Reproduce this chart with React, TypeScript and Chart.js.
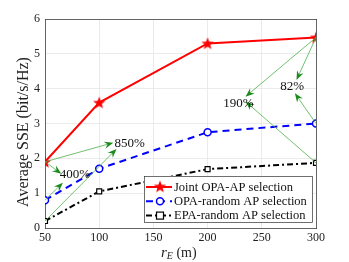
import React, { useEffect, useRef } from "react";
import { Chart, registerables } from "chart.js";
Chart.register(...registerables);

const distances = [50, 100, 200, 300];
const jointOPA = [1.9, 3.6, 5.3, 5.47];
const opaRandom = [0.8, 1.7, 2.75, 3.0];
const epaRandom = [0.2, 1.05, 1.69, 1.87];
const seriesLabels = ["Joint OPA-AP selection", "OPA-random AP selection", "EPA-random AP selection"];
const yTicks = [0, 1, 2, 3, 4, 5, 6];
const xTicks = [50, 100, 150, 200, 250, 300];
// arrows: [fromX, fromY, toX, toY]
const arrows: [number, number, number, number][] = [
  [50, 1.9, 113, 2.45],
  [50, 0.2, 116, 2.27],
  [50, 1.9, 65, 1.56],
  [50, 0.8, 66.5, 1.3],
  [300, 5.47, 235, 3.77],
  [300, 1.87, 235, 3.63],
  [300, 5.47, 282, 4.25],
  [300, 3.0, 280.5, 3.87],
];
const labels: [string, number, number][] = [
  ["850%", 128, 2.42],
  ["400%", 77.5, 1.52],
  ["190%", 228.5, 3.58],
  ["82%", 278, 4.07],
];

const FONT = "'Liberation Serif', 'DejaVu Serif', serif";

function starImage(size: number, color: string) {
  const c = document.createElement("canvas");
  c.width = size;
  c.height = size;
  const ctx = c.getContext("2d")!;
  const cx = size / 2, cy = size / 2 + 0.5, R = size / 2 - 0.5, r = R * 0.42;
  ctx.beginPath();
  for (let i = 0; i < 10; i++) {
    const a = -Math.PI / 2 + (i * Math.PI) / 5;
    const rad = i % 2 === 0 ? R : r;
    const x = cx + rad * Math.cos(a), y = cy + rad * Math.sin(a);
    if (i === 0) ctx.moveTo(x, y); else ctx.lineTo(x, y);
  }
  ctx.closePath();
  ctx.fillStyle = color;
  ctx.fill();
  return c;
}

export default function App() {
  const ref = useRef<HTMLCanvasElement>(null);
  useEffect(() => {
    document.body.style.margin = "0";
    const star = starImage(14, "#ff0000");
    const overlay = {
      id: "overlay",
      afterDatasetsDraw(chart: any) {
        const ctx = chart.ctx as CanvasRenderingContext2D;
        const xs = chart.scales.x, ys = chart.scales.y;
        ctx.save();
        // arrows
        arrows.forEach(([x0, y0, x1, y1]) => {
          const px0 = xs.getPixelForValue(x0), py0 = ys.getPixelForValue(y0);
          const px1 = xs.getPixelForValue(x1), py1 = ys.getPixelForValue(y1);
          const ang = Math.atan2(py1 - py0, px1 - px0);
          const L = 9, W = 3.5;
          const bx = px1 - L * Math.cos(ang), by = py1 - L * Math.sin(ang);
          ctx.strokeStyle = "#4cb04c";
          ctx.lineWidth = 0.8;
          ctx.beginPath();
          ctx.moveTo(px0, py0);
          ctx.lineTo(bx + 3 * Math.cos(ang), by + 3 * Math.sin(ang));
          ctx.stroke();
          ctx.fillStyle = "#1a8a1a";
          ctx.beginPath();
          ctx.moveTo(px1, py1);
          ctx.lineTo(bx - W * Math.sin(ang), by + W * Math.cos(ang));
          ctx.lineTo(bx + 3 * Math.cos(ang), by + 3 * Math.sin(ang));
          ctx.lineTo(bx + W * Math.sin(ang), by - W * Math.cos(ang));
          ctx.closePath();
          ctx.fill();
        });
        ctx.fillStyle = "#111";
        ctx.font = `13px ${FONT}`;
        ctx.textAlign = "center";
        ctx.textBaseline = "middle";
        labels.forEach(([t, x, y]) => {
          ctx.fillText(t, xs.getPixelForValue(x), ys.getPixelForValue(y));
        });
        // legend
        const ca = chart.chartArea;
        const lx = 144, ly = 176, lw = ca.right - 4 - lx, lh = 46;
        ctx.fillStyle = "#fff";
        ctx.fillRect(lx, ly, lw, lh);
        ctx.strokeStyle = "#333";
        ctx.lineWidth = 0.7;
        ctx.strokeRect(lx + 0.5, ly + 0.5, lw, lh);
        chart.data.datasets.forEach((ds: any, i: number) => {
          const yy = ly + 11 + i * 14.3;
          ctx.strokeStyle = ds.borderColor;
          ctx.lineWidth = 2;
          ctx.setLineDash(ds.borderDash || []);
          ctx.beginPath();
          ctx.moveTo(lx + 2, yy);
          ctx.lineTo(lx + 28, yy);
          ctx.stroke();
          ctx.setLineDash([]);
          const mx = lx + 16;
          if (i === 0) {
            ctx.drawImage(star, mx - 7, yy - 7.5);
          } else if (i === 1) {
            ctx.fillStyle = "#fff";
            ctx.lineWidth = 1.5;
            ctx.beginPath();
            ctx.arc(mx, yy, 3.5, 0, Math.PI * 2);
            ctx.fill();
            ctx.stroke();
          } else {
            ctx.fillStyle = "#fff";
            ctx.lineWidth = 1.2;
            ctx.fillRect(mx - 3.5, yy - 3.5, 7, 7);
            ctx.strokeRect(mx - 3.5, yy - 3.5, 7, 7);
          }
          ctx.fillStyle = "#111";
          ctx.font = `12.5px ${FONT}`;
          ctx.textAlign = "left";
          ctx.textBaseline = "middle";
          ctx.fillText(ds.label, lx + 30, yy + 0.5);
        });
        // axis titles
        ctx.fillStyle = "#222";
        ctx.font = `16px ${FONT}`;
        ctx.textAlign = "center";
        ctx.save();
        ctx.translate(24, 132);
        ctx.rotate(-Math.PI / 2);
        ctx.fillText("Average SSE (bit/s/Hz)", 0, 0);
        ctx.restore();
        const ty = 253;
        ctx.textAlign = "left";
        let sx = 161;
        ctx.font = `italic 15px ${FONT}`;
        ctx.fillText("r", sx, ty);
        sx += ctx.measureText("r").width;
        ctx.font = `italic 10px ${FONT}`;
        ctx.fillText("E", sx, ty + 3);
        sx += ctx.measureText("E").width;
        ctx.font = `14px ${FONT}`;
        ctx.fillText(" (m)", sx, ty);
        ctx.restore();
      },
    };
    const chart = new Chart(ref.current!, {
      type: "line",
      data: {
        datasets: [
          {
            label: seriesLabels[0],
            data: distances.map((x, i) => ({ x, y: jointOPA[i] })),
            borderColor: "#ff0000",
            borderWidth: 2,
            pointStyle: star as any,
            pointRadius: 7,
          },
          {
            label: seriesLabels[1],
            data: distances.map((x, i) => ({ x, y: opaRandom[i] })),
            borderColor: "#0000ff",
            borderWidth: 2,
            borderDash: [7, 5],
            pointStyle: "circle",
            pointRadius: 3.5,
            pointBorderWidth: 1.5,
            pointBackgroundColor: "#fff",
            pointBorderColor: "#0000ff",
          },
          {
            label: seriesLabels[2],
            data: distances.map((x, i) => ({ x, y: epaRandom[i] })),
            borderColor: "#000000",
            borderWidth: 2,
            borderDash: [6, 3, 2, 3],
            pointStyle: "rect",
            pointRadius: 3.5,
            pointBorderWidth: 1.2,
            pointBackgroundColor: "#fff",
            pointBorderColor: "#000",
          },
        ],
      },
      options: {
        animation: false,
        responsive: false,
        layout: { padding: { top: 19, right: 33, left: 0, bottom: 0 } },
        plugins: { legend: { display: false }, tooltip: { enabled: false } },
        scales: {
          x: {
            type: "linear",
            min: 50,
            max: 300,
            afterFit: (s: any) => { s.height = 34; },
            afterBuildTicks: (s: any) => { s.ticks = xTicks.map((v) => ({ value: v })); },
            grid: { color: "#e6e6e6", lineWidth: 0.8, tickLength: 0 },
            border: { color: "#444", width: 0.8 },
            ticks: { color: "#222", font: { family: FONT, size: 12 }, padding: 3, maxRotation: 0 },
          },
          y: {
            min: 0,
            max: 6,
            afterFit: (s: any) => { s.width = 45; },
            afterBuildTicks: (s: any) => { s.ticks = yTicks.map((v) => ({ value: v })); },
            grid: { color: "#e6e6e6", lineWidth: 0.8, tickLength: 0 },
            border: { color: "#444", width: 0.8 },
            ticks: { color: "#222", font: { family: FONT, size: 12 }, padding: 5 },
          },
          x2: {
            type: "linear", position: "top", min: 50, max: 300,
            ticks: { display: false }, grid: { display: false },
            border: { color: "#444", width: 0.8 },
            afterFit: (s: any) => { s.height = 0; },
          },
          y2: {
            position: "right", min: 0, max: 6,
            ticks: { display: false }, grid: { display: false },
            border: { color: "#444", width: 0.8 },
            afterFit: (s: any) => { s.width = 0; },
          },
        },
      } as any,
      plugins: [overlay],
    });
    return () => chart.destroy();
  }, []);
  return (
    <div style={{ width: 349, height: 262 }}>
      <canvas ref={ref} width={349} height={262} style={{ display: "block" }} />
    </div>
  );
}
